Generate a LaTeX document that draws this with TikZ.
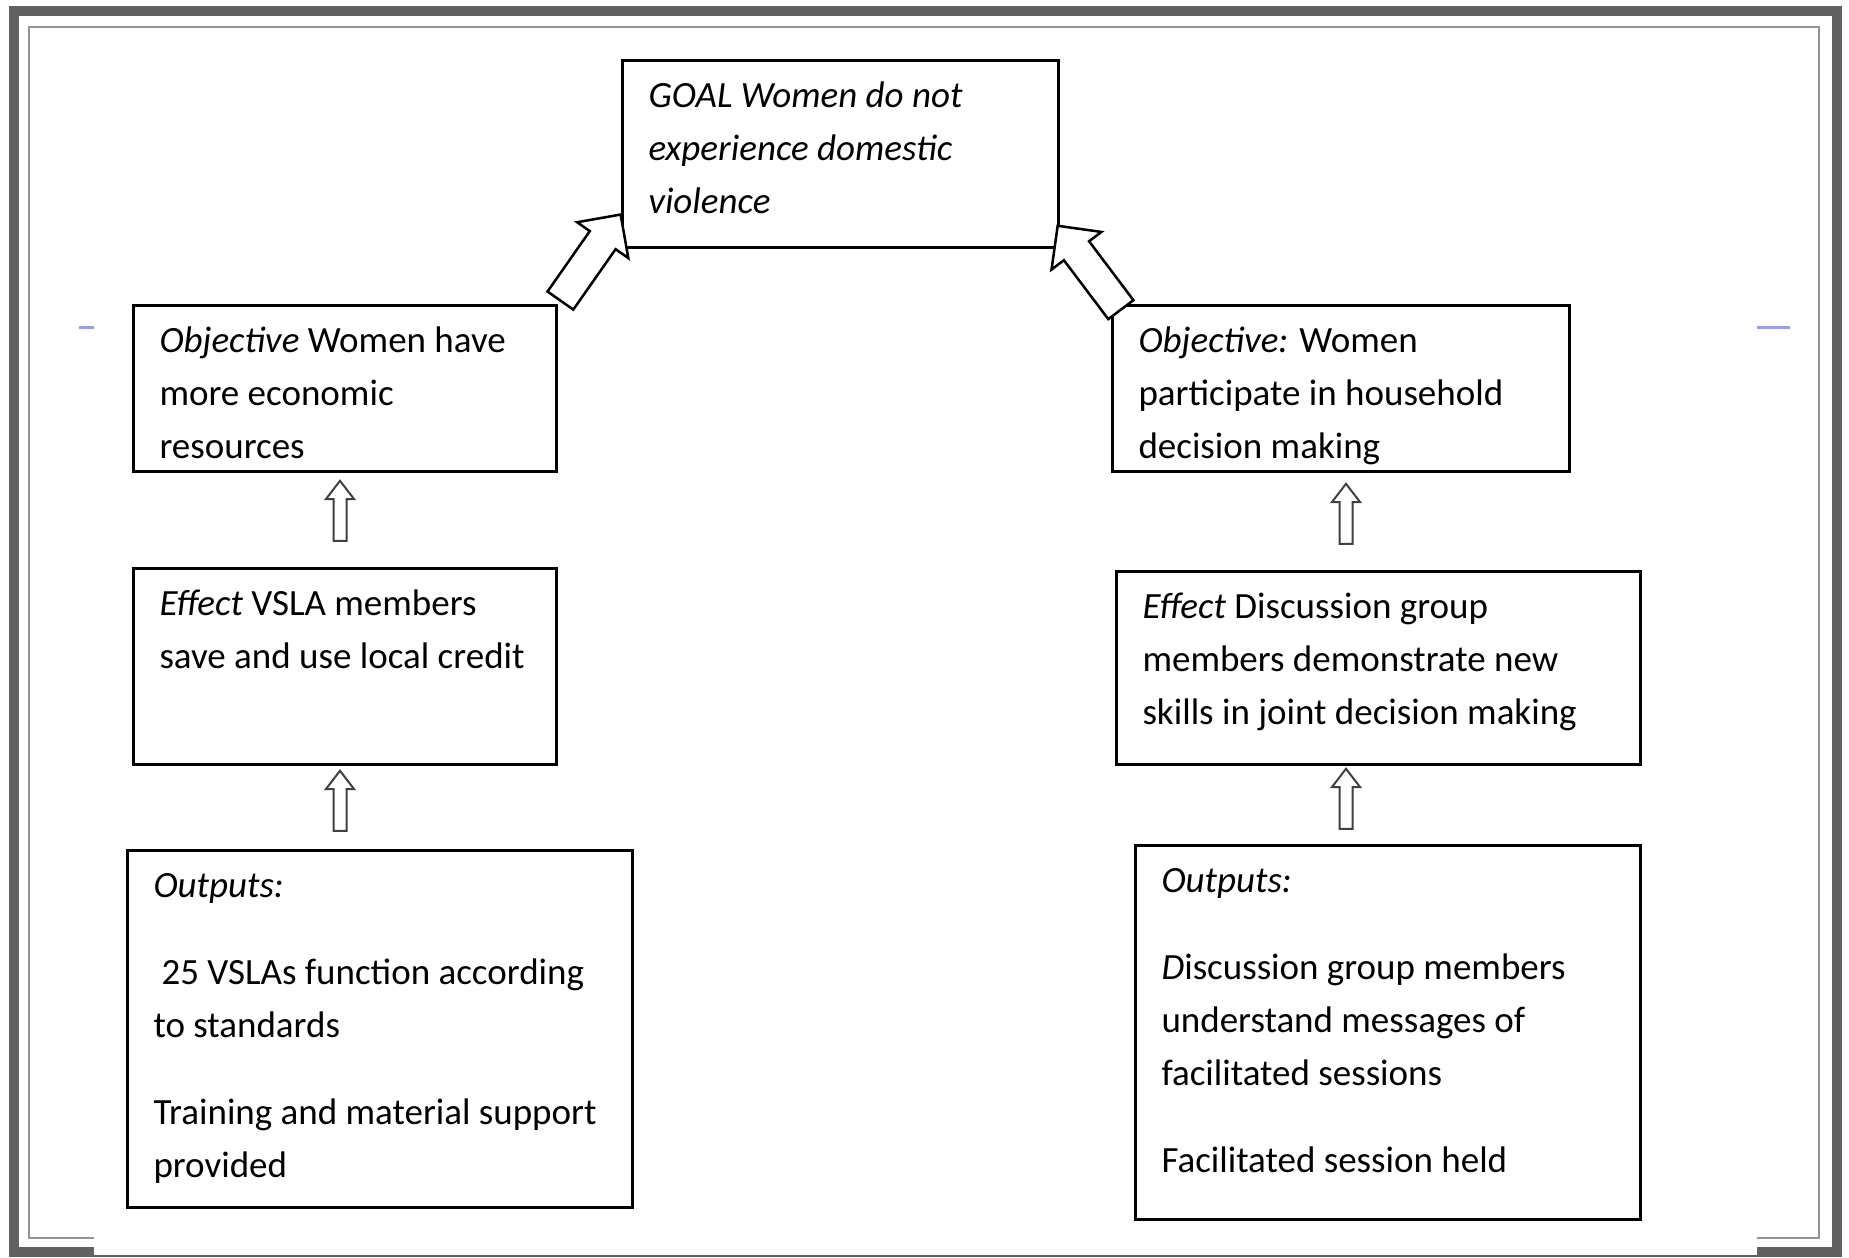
\documentclass[tikz,border=0pt]{standalone}
\usepackage{fontspec}
\setmainfont{Carlito}
\usetikzlibrary{shapes.arrows}

\begin{document}
\begin{tikzpicture}[x=1bp, y=-1bp, font=\fontsize{37bp}{53bp}\selectfont,
  box/.style={draw=black, line width=3bp, inner xsep=26bp, inner ysep=10bp, anchor=north west},
  bigarr/.style={single arrow, draw=black, line width=2.5bp, fill=white, inner xsep=0pt, inner ysep=14.5bp,
    minimum height=105bp, single arrow head extend=15.5bp},
  uparr/.style={single arrow, draw=black!75, line width=2bp, fill=white, inner xsep=0pt, inner ysep=5.5bp,
    minimum height=60bp, single arrow head extend=7.5bp,
    single arrow tip angle=75, rotate=90}]
\path[use as bounding box, fill=white] (0,0) rectangle (1849,1257);
% page frame of the screenshot
\draw[line width=10bp, draw=black!62] (14,11) rectangle (1837,1252);
\draw[line width=2bp, draw=black!42] (29,27) rectangle (1819,1238);
\fill[white] (94,1232) rectangle (1757,1255);
\draw[line width=3bp, draw=blue!40] (79,327) -- (94,327);
\draw[line width=3bp, draw=blue!40] (1757,327) -- (1790,327);
% boxes
\node[box] (goal) at (621,59) {\parbox[t][167bp][t]{384bp}{\raggedright\strut\itshape GOAL Women do not\\
  experience domestic\\ violence}};
\node[box] (objl) at (132,304) {\parbox[t][146bp][t]{371bp}{\raggedright\strut\textit{Objective} Women have\\
  more economic\\ resources}};
\node[box] (objr) at (1111,304) {\parbox[t][146bp][t]{405bp}{\raggedright\strut\textit{Objective:} Women\\
  participate in household\\ decision making}};
\node[box] (effl) at (132,567) {\parbox[t][176bp][t]{371bp}{\raggedright\strut\textit{Effect} VSLA members\\
  save and use local credit}};
\node[box] (effr) at (1115,570) {\parbox[t][173bp][t]{472bp}{\raggedright\strut\textit{Effect} Discussion group\\
  members demonstrate new\\ skills in joint decision making}};
\node[box] (outl) at (126,849) {\parbox[t][337bp][t]{453bp}{\raggedright\strut\textit{Outputs:}\\[34bp]
  \hspace*{8bp}25 VSLAs function according\\ to standards\\[34bp]
  Training and material support\\ provided}};
\node[box] (outr) at (1134,844) {\parbox[t][354bp][t]{453bp}{\raggedright\strut\textit{Outputs:}\\[34bp]
  \textit{D}iscussion group members\\ understand messages of\\ facilitated sessions\\[34bp]
  Facilitated session held}};
% arrows
\node[bigarr, rotate=55] (upl) at (586,264) {};
\node[bigarr, rotate=127] (upr) at (1094,274) {};
\node[uparr] (al1) at (340,515) {};
\node[uparr] (al2) at (340,805) {};
\node[uparr] (ar1) at (1346,518) {};
\node[uparr] (ar2) at (1346,803) {};
\end{tikzpicture}
\end{document}
